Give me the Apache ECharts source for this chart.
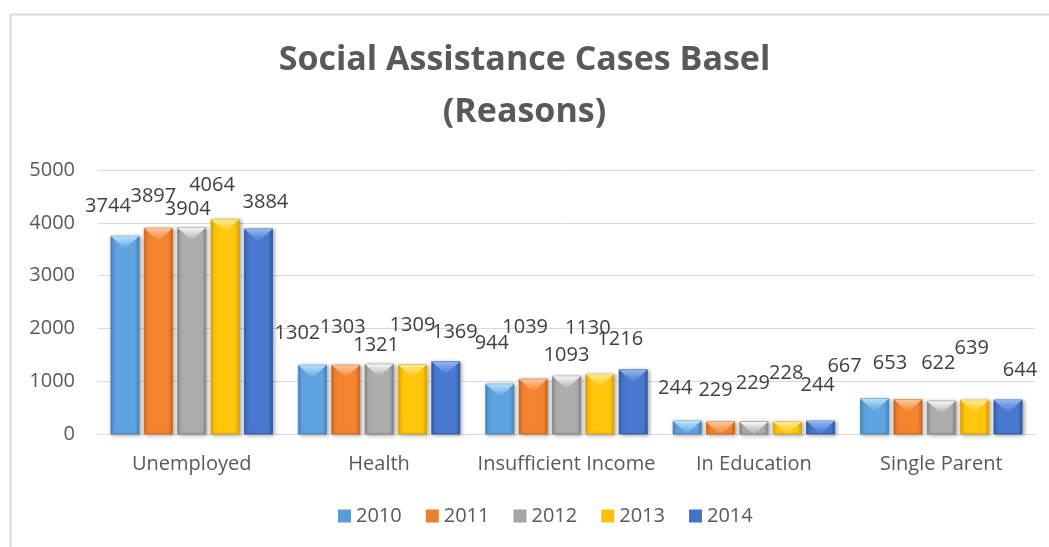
<!DOCTYPE html>
<html>
<head>
<meta charset="utf-8">
<script src="https://cdn.jsdelivr.net/npm/echarts@6/dist/echarts.min.js"></script>
<style>
  html, body { margin: 0; padding: 0; background: #ffffff; }
  #chart { width: 1049px; height: 547px; }
</style>
</head>
<body>
<div id="chart"></div>
<script>
// Categories and yearly case counts
const categories = ['Unemployed', 'Health', 'Insufficient Income', 'In Education', 'Single Parent'];
const years = ['2010', '2011', '2012', '2013', '2014'];
const cases2010 = [3744, 1302, 944, 244, 667];
const cases2011 = [3897, 1303, 1039, 229, 653];
const cases2012 = [3904, 1321, 1093, 229, 622];
const cases2013 = [4064, 1309, 1130, 228, 639];
const cases2014 = [3884, 1369, 1216, 244, 644];
const yTicks = [0, 1000, 2000, 3000, 4000, 5000];

// Hand-placed data label nudges (px, relative to bar centre / bar top)
const labelShift = [
  [[-17, -30], [-15, -32], [-8, -41], [-12, -33], [-30, -32]],
  [[-5, -32], [-3, -38], [-8, -52], [-5, -32], [-18, -36]],
  [[-4, -19], [-3, -19], [0, -21], [-1, -39], [-3, -38]],
  [[-13, -34], [0, -40], [-12, -46], [-1, -49], [-3, -52]],
  [[7, -27], [9, -29], [-13, -30], [-3, -36], [12, -30]]
];

// Bevelled bar colours per year
const palettes = [
  { base: '#5B9BD5', edge: '#4683c0', mid: '#5fa3e0', light: '#b8e3fc' },
  { base: '#ED7D31', edge: '#cf641c', mid: '#f4832f', light: '#fcc89e' },
  { base: '#A5A5A5', edge: '#878787', mid: '#adadad', light: '#f7f7f7' },
  { base: '#FFC000', edge: '#dea300', mid: '#ffc60c', light: '#ffeb8f' },
  { base: '#4472C4', edge: '#31589f', mid: '#4779d0', light: '#92b6f0' }
];

const allSeries = [cases2010, cases2011, cases2012, cases2013, cases2014];
const nSeries = allSeries.length;

function makeRender(si) {
  const pal = palettes[si];
  return function (params, api) {
    const ci = api.value(0);
    const v = api.value(1);
    const topPt = api.coord([ci, v]);
    const basePt = api.coord([ci, 0]);
    const band = api.size([1, 0])[0];
    const w = band * 0.15;
    const step = band * 0.178;
    const cx = topPt[0] + (si - (nSeries - 1) / 2) * step;
    const x = cx - w / 2;
    const y = topPt[1];
    const h = basePt[1] - y;
    const depth = w * 0.45;
    let bevelPts;
    if (h >= depth) {
      bevelPts = [[x, y], [x + w, y], [cx, y + depth]];
    } else {
      const hw = (w / 2) * (1 - h / depth);
      bevelPts = [[x, y], [x + w, y], [cx + hw, y + h], [cx - hw, y + h]];
    }
    const shift = labelShift[si][ci];
    return {
      type: 'group',
      children: [
        {
          type: 'rect',
          shape: { x: x, y: y, width: w, height: h },
          style: {
            fill: new echarts.graphic.LinearGradient(0, 0, 1, 0, [
              { offset: 0, color: pal.edge },
              { offset: 0.12, color: pal.mid },
              { offset: 0.85, color: pal.mid },
              { offset: 1, color: pal.edge }
            ]),
            stroke: pal.edge,
            lineWidth: 0.8,
            shadowBlur: 4,
            shadowColor: 'rgba(0,0,0,0.35)',
            shadowOffsetX: 1.5,
            shadowOffsetY: 1
          }
        },
        {
          type: 'polygon',
          shape: { points: bevelPts },
          style: {
            fill: new echarts.graphic.LinearGradient(0, 0, 0, 1, [
              { offset: 0, color: pal.light },
              { offset: 1, color: pal.mid }
            ])
          }
        },
        {
          type: 'text',
          style: {
            text: String(v),
            x: cx + shift[0],
            y: y + shift[1],
            align: 'center',
            verticalAlign: 'middle',
            fontFamily: 'Open Sans',
            fontSize: 20,
            fill: '#404040'
          }
        }
      ]
    };
  };
}

const series = allSeries.map(function (vals, si) {
  return {
    name: years[si],
    type: 'custom',
    renderItem: makeRender(si),
    encode: { x: 0, y: 1 },
    itemStyle: { color: palettes[si].base },
    data: vals.map(function (v, ci) { return [ci, v]; })
  };
});

const chart = echarts.init(document.getElementById('chart'));
chart.setOption({
  animation: false,
  backgroundColor: '#ffffff',
  textStyle: { fontFamily: 'Open Sans' },
  title: {
    text: 'Social Assistance Cases Basel\n(Reasons)',
    left: 'center',
    top: 29,
    textStyle: {
      fontFamily: 'Open Sans',
      fontSize: 34,
      fontWeight: 'bold',
      color: '#595959',
      lineHeight: 52
    }
  },
  graphic: [
    {
      type: 'rect',
      shape: { x: 10.5, y: 14.5, width: 1060, height: 560 },
      style: { fill: 'none', stroke: '#d9d9d9', lineWidth: 2 },
      silent: true
    }
  ],
  legend: {
    data: years,
    bottom: 16,
    left: 333,
    icon: 'rect',
    itemWidth: 13,
    itemHeight: 13,
    itemGap: 24,
    textStyle: { fontFamily: 'Open Sans', fontSize: 20, color: '#595959' }
  },
  grid: { left: 98, right: 14, top: 170, bottom: 113 },
  xAxis: {
    type: 'category',
    data: categories,
    axisLine: { lineStyle: { color: '#d9d9d9', width: 1 } },
    axisTick: { show: false },
    axisLabel: { interval: 0, fontFamily: 'Open Sans', fontSize: 20, color: '#595959', margin: 20 }
  },
  yAxis: {
    type: 'value',
    min: yTicks[0],
    max: yTicks[yTicks.length - 1],
    interval: yTicks[1] - yTicks[0],
    axisLine: { show: false },
    axisTick: { show: false },
    splitLine: { lineStyle: { color: '#d9d9d9', width: 1 } },
    axisLabel: {
      fontFamily: 'Open Sans',
      fontSize: 20,
      color: '#595959',
      margin: 23,
      formatter: function (val) { return String(val); }
    }
  },
  series: series
});
</script>
</body>
</html>
